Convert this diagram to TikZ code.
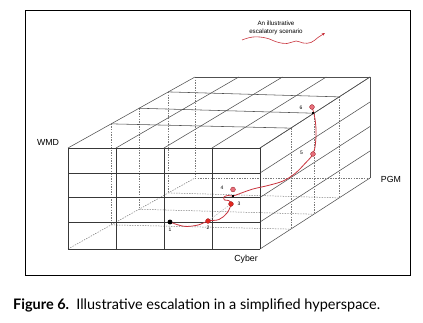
\documentclass[tikz,border=0pt]{standalone}
\usepackage{graphicx}
\usepackage{fontspec}
\setmainfont{Liberation Sans}
\newfontfamily\capfont{Lato}
\usetikzlibrary{arrows.meta}
\definecolor{curvered}{HTML}{C8323C}
\definecolor{dotred}{HTML}{E3261D}
\definecolor{dotpink}{HTML}{E8707C}
\definecolor{gridgray}{HTML}{505050}
\definecolor{hidgray}{HTML}{7A7A7A}
\begin{document}
\begin{tikzpicture}[x=1pt,y=-1pt,
  gridline/.style={draw=gridgray,line width=0.55pt},
  frontline/.style={draw=gridgray!70!black,line width=0.8pt},
  hidline/.style={draw=hidgray,line width=0.5pt,dash pattern=on 1.4pt off 1.2pt},
  lbl/.style={font=\fontsize{8.8}{10}\selectfont,inner sep=0pt},
  num/.style={font=\fontsize{5}{6}\selectfont,inner sep=0pt},
  legend/.style={font=\fontsize{6.2}{8.2}\selectfont,align=center,inner sep=0pt},
  dotnode/.style={circle,inner sep=0pt,minimum size=4.8pt,draw=curvered!80!black,line width=0.4pt},
  sqnode/.style={rectangle,fill=black,inner sep=0pt,minimum width=2pt,minimum height=2.8pt},
  curve/.style={draw=curvered,line width=0.8pt},
]
\useasboundingbox (0,0) rectangle (423,323);
% frame
\draw[line width=0.9pt] (25,10) rectangle (410,275);

% hidden lines
\foreach \t in {0.34,0.56,0.79,1}
  \draw[hidline] ({68+127*\t},{148-71*\t}) -- ({68+127*\t},{249-71*\t});
\draw[hidline] (68,249) -- (195,178);
\foreach \t/\r in {0.34/0.28,0.56/0.49,0.79/0.72,1/1}
  \draw[hidline] ({68+127*\t},{249-71*\t}) -- ({260+110*\r},{249-71*\r});
\foreach \r in {0.28,0.49,0.72}
  \draw[hidline] ({260+110*\r},{148-71*\r}) -- ({260+110*\r},{249-71*\r});

% top face
\foreach \i in {0,...,4}
  \draw[gridline] ({68+48*\i},148) -- ({195+43.75*\i},77);
\draw[gridline] (195,77) -- (370,77);
\foreach \t/\r in {0.34/0.28,0.56/0.49,0.79/0.72}
  \draw[gridline] ({68+127*\t},{148-71*\t}) -- ({260+110*\r},{148-71*\r});
% right face
\foreach \y in {148,173,197.5,222,249}
  \draw[gridline] (260,\y) -- (370,\y-71);
\draw[gridline] (370,77) -- (370,178);
% front face
\foreach \x in {68,116,164,212,260}
  \draw[frontline] (\x,148) -- (\x,249);
\foreach \y in {148,173,197.5,222,249}
  \draw[frontline] (68,\y) -- (260,\y);

% labels
\node[lbl] (wmd) at (48,142) {WMD};
\node[lbl] (pgm) at (391,179) {PGM};
\node[lbl] (cyber) at (246,259) {Cyber};

% scenario path
\coordinate (c1) at (170,222);
\coordinate (c2) at (208,221);
\coordinate (c3) at (231,204);
\coordinate (c4) at (233,189.5);
\coordinate (c5) at (313,154);
\coordinate (c6) at (312,107);
\coordinate (s4) at (233,196);
\coordinate (s6) at (313,113);
\draw[hidline,draw=hidgray!60] (c2) -- (c3);
\draw[curve] plot[smooth,tension=0.6] coordinates {(c1) (184,226.3) (198,225) (c2) (219,219.5) (227,213) (c3) (228.5,200.5) (224.5,200) (224,197) (228,195.5) (s4) (240,193.5) (253,189) (268,185.5) (283,181) (295,173.5) (305,163.5) (c5) (315.5,143) (316,130) (315,119) (313.5,112) (c6)};

\node[sqnode] (q4) at (s4) {};
\node[sqnode] (q6) at (s6) {};
\node[dotnode,fill=black,draw=black,minimum size=4.4pt] (p1) at (c1) {};
\node[dotnode,fill=dotred] (p2) at (c2) {};
\node[dotnode,fill=dotred] (p3) at (c3) {};
\node[dotnode,fill=dotpink] (p4) at (c4) {};
\node[dotnode,fill=dotpink] (p5) at (c5) {};
\node[dotnode,fill=dotpink] (p6) at (c6) {};

\node[num] (n1) at (170,230) {1};
\node[num] (n2) at (208,228) {2};
\node[num] (n3) at (239,204) {3};
\node[num] (n4) at (222,188) {4};
\node[num] (n5) at (301.5,153) {5};
\node[num] (n6) at (301,108) {6};

% legend
\node[legend] (leg) at (276,27.5) {An illustrative\\escalatory scenario};
\coordinate (l0) at (242,40);
\coordinate (l1) at (325,33);
\draw[curvered,line width=0.6pt,-{Stealth[length=3.2pt,width=2.8pt]}] plot[smooth,tension=0.7] coordinates {(l0) (253,37) (266,38) (277,42) (287,43.5) (296,41) (303,43) (311,42.5) (318,37.5) (l1)};

% caption
\node[inner sep=0pt,anchor=base west] (cap) at (13,309) {\resizebox{367pt}{!}{\capfont\textbf{Figure 6.}\enspace Illustrative escalation in a simplified hyperspace.}};
\end{tikzpicture}
\end{document}
